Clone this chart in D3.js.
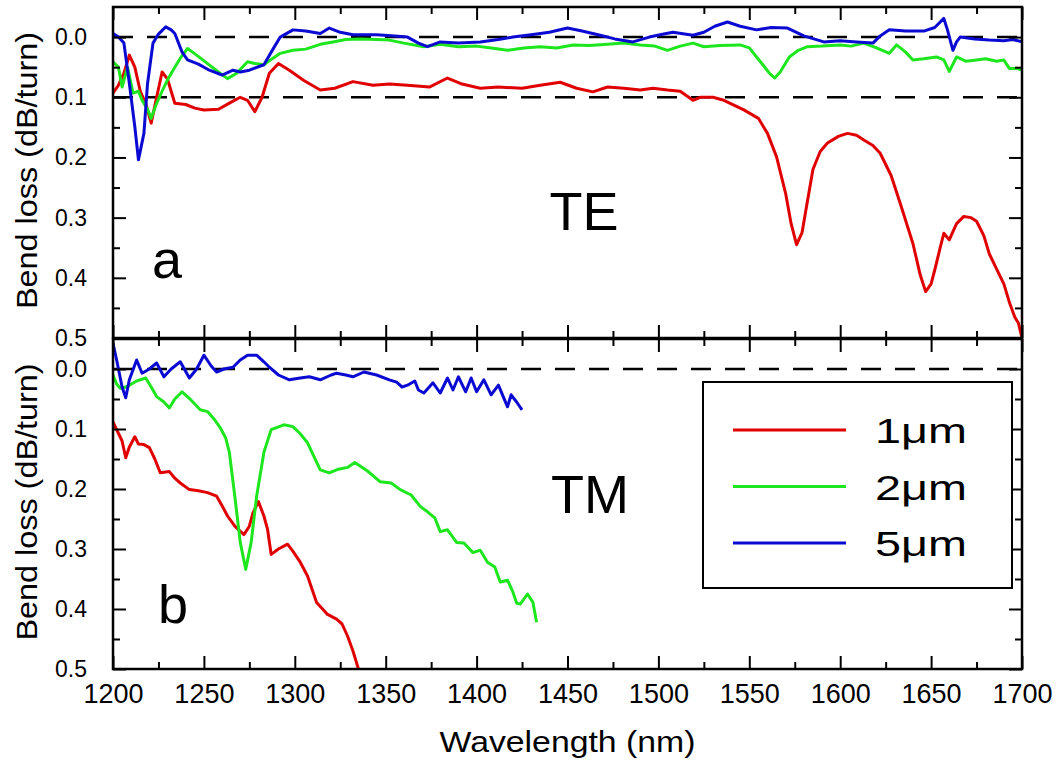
<!DOCTYPE html>
<html>
<head>
<meta charset="utf-8">
<script src="https://cdn.jsdelivr.net/npm/d3@7"></script>
<style>
  body { margin: 0; background: #fff; }
  svg { display: block; font-family: "Liberation Sans", Arial, sans-serif; }
</style>
</head>
<body>
<svg id="chart" width="1057" height="763"></svg>
<script>
// ---- data ----
var xTicks = [1200, 1250, 1300, 1350, 1400, 1450, 1500, 1550, 1600, 1650, 1700];
var xMinor = [1225, 1275, 1325, 1375, 1425, 1475, 1525, 1575, 1625, 1675];
var yTicks = [0.0, 0.1, 0.2, 0.3, 0.4, 0.5];
var yMinor = [0.05, 0.15, 0.25, 0.35, 0.45];
var seriesNames = ["1\u03bcm", "2\u03bcm", "5\u03bcm"];
var seriesColors = ["#e00000", "#1ee61e", "#0a0ad2"];

// (a) TE  -- [wavelength nm, bend loss dB/turn]
var te1um = [[1200,0.093],[1203,0.08],[1206,0.06],[1209,0.03],[1212,0.05],[1215,0.09],[1218,0.11],[1221,0.143],
  [1224,0.1],[1227,0.058],[1230,0.07],[1234,0.11],[1240,0.112],[1245,0.118],[1250,0.121],[1258,0.12],
  [1265,0.108],[1270,0.1],[1274,0.105],[1278,0.124],[1282,0.1],[1286,0.06],[1291,0.044],[1297,0.055],
  [1305,0.072],[1314,0.088],[1322,0.085],[1332,0.074],[1343,0.08],[1352,0.078],[1362,0.08],[1374,0.083],
  [1384,0.068],[1392,0.078],[1402,0.085],[1412,0.083],[1425,0.085],[1435,0.08],[1446,0.075],[1455,0.085],
  [1464,0.091],[1472,0.083],[1481,0.085],[1490,0.088],[1497,0.085],[1505,0.088],[1512,0.09],[1519,0.105],
  [1523,0.1],[1530,0.1],[1536,0.105],[1547,0.121],[1555,0.135],[1560,0.16],[1565,0.199],[1570,0.26],
  [1573,0.31],[1576,0.345],[1579,0.325],[1581,0.29],[1585,0.22],[1589,0.19],[1593,0.176],[1599,0.165],
  [1604,0.16],[1609,0.163],[1613,0.171],[1618,0.18],[1622,0.193],[1628,0.23],[1633,0.276],[1640,0.343],
  [1644,0.395],[1647,0.423],[1650,0.41],[1652,0.387],[1655,0.35],[1657,0.326],[1660,0.337],[1664,0.31],
  [1668,0.298],[1672,0.3],[1675,0.306],[1679,0.33],[1682,0.36],[1686,0.385],[1690,0.41],[1693,0.44],
  [1696,0.465],[1698,0.475],[1700,0.5]];
var te2um = [[1200,0.041],[1203,0.05],[1205,0.083],[1208,0.05],[1211,0.093],[1214,0.09],[1216,0.105],
  [1219,0.12],[1221,0.135],[1224,0.11],[1227,0.09],[1230,0.071],[1234,0.05],[1237,0.035],[1241,0.019],
  [1246,0.03],[1252,0.044],[1258,0.058],[1263,0.069],[1268,0.06],[1274,0.041],[1278,0.044],[1283,0.046],
  [1288,0.035],[1292,0.027],[1299,0.022],[1306,0.02],[1314,0.012],[1321,0.008],[1328,0.004],[1336,0.003],
  [1345,0.004],[1352,0.005],[1360,0.01],[1371,0.016],[1380,0.012],[1390,0.016],[1400,0.015],[1408,0.018],
  [1417,0.022],[1426,0.018],[1435,0.016],[1444,0.018],[1453,0.013],[1462,0.014],[1472,0.012],[1481,0.01],
  [1490,0.013],[1498,0.015],[1505,0.022],[1512,0.015],[1519,0.01],[1525,0.016],[1534,0.014],[1545,0.013],
  [1550,0.018],[1554,0.033],[1558,0.048],[1561,0.06],[1564,0.068],[1567,0.058],[1572,0.033],[1577,0.022],
  [1582,0.016],[1590,0.015],[1600,0.013],[1606,0.015],[1613,0.01],[1620,0.018],[1627,0.027],[1631,0.013],
  [1636,0.025],[1640,0.038],[1646,0.036],[1653,0.033],[1657,0.038],[1660,0.057],[1664,0.033],[1669,0.04],
  [1675,0.038],[1680,0.036],[1686,0.04],[1690,0.038],[1693,0.052],[1697,0.052],[1700,0.055]];
var te5um = [[1200,-0.006],[1203,0.0],[1206,0.01],[1209,0.077],[1212,0.149],[1214,0.204],[1217,0.16],
  [1219,0.077],[1222,0.01],[1225,-0.005],[1229,-0.017],[1232,-0.012],[1234,-0.006],[1238,0.025],
  [1241,0.038],[1247,0.045],[1253,0.055],[1260,0.063],[1266,0.055],[1270,0.058],[1275,0.055],[1283,0.046],
  [1288,0.02],[1292,0.0],[1299,-0.012],[1306,-0.01],[1314,-0.006],[1319,-0.015],[1325,-0.008],[1332,-0.004],
  [1345,-0.004],[1355,-0.002],[1362,0.0],[1368,0.01],[1373,0.016],[1380,0.008],[1390,0.01],[1402,0.008],
  [1412,0.004],[1420,0.0],[1430,-0.004],[1440,-0.008],[1450,-0.015],[1458,-0.01],[1468,-0.003],[1476,0.003],
  [1486,0.008],[1495,0.0],[1503,-0.005],[1508,-0.008],[1519,-0.003],[1525,-0.008],[1531,-0.018],[1538,-0.025],
  [1545,-0.018],[1554,-0.012],[1562,-0.016],[1571,-0.015],[1580,-0.002],[1591,0.008],[1600,0.006],
  [1609,0.008],[1618,0.01],[1622,-0.002],[1627,-0.012],[1636,-0.01],[1646,-0.01],[1652,-0.016],
  [1657,-0.031],[1659,-0.012],[1662,0.022],[1664,0.008],[1666,0.0],[1674,0.003],[1682,0.005],[1690,0.006],
  [1695,0.004],[1700,0.008]];

// (b) TM
var tm1um = [[1200,0.088],[1202,0.101],[1205,0.12],[1207,0.148],[1209,0.13],[1212,0.113],[1214,0.125],
  [1217,0.126],[1220,0.131],[1223,0.15],[1226,0.173],[1231,0.171],[1234,0.182],[1237,0.19],[1242,0.201],
  [1247,0.203],[1252,0.206],[1257,0.212],[1260,0.228],[1263,0.245],[1267,0.262],[1272,0.276],[1275,0.262],
  [1277,0.24],[1280,0.221],[1283,0.245],[1285,0.267],[1287,0.309],[1291,0.3],[1296,0.292],[1299,0.304],
  [1303,0.322],[1307,0.345],[1312,0.389],[1318,0.409],[1323,0.417],[1326,0.425],[1329,0.445],[1332,0.47],
  [1335,0.5]];
var tm2um = [[1200,0.01],[1202,0.025],[1204,0.032],[1207,0.03],[1209,0.027],[1213,0.02],[1218,0.015],
  [1221,0.03],[1224,0.046],[1228,0.055],[1231,0.065],[1234,0.05],[1238,0.038],[1243,0.052],[1248,0.068],
  [1252,0.071],[1256,0.085],[1259,0.098],[1262,0.115],[1264,0.139],[1267,0.212],[1270,0.289],[1273,0.334],
  [1276,0.289],[1279,0.212],[1283,0.139],[1287,0.101],[1294,0.093],[1299,0.096],[1303,0.108],[1307,0.123],
  [1314,0.168],[1319,0.173],[1324,0.167],[1329,0.164],[1333,0.156],[1340,0.17],[1347,0.188],[1353,0.19],
  [1358,0.201],[1364,0.21],[1369,0.229],[1373,0.238],[1377,0.248],[1380,0.271],[1384,0.268],[1389,0.289],
  [1393,0.29],[1398,0.306],[1402,0.302],[1406,0.322],[1410,0.33],[1413,0.355],[1417,0.352],[1420,0.372],
  [1422,0.39],[1424,0.392],[1428,0.375],[1431,0.389],[1433,0.422]];
var tm5um = [[1200,-0.043],[1202,-0.015],[1205,0.03],[1207,0.048],[1209,0.018],[1213,-0.015],[1216,0.007],
  [1220,0.0],[1224,-0.01],[1228,0.013],[1232,0.0],[1237,-0.012],[1242,0.015],[1246,0.0],[1250,-0.023],
  [1254,-0.005],[1257,0.005],[1261,0.0],[1266,-0.003],[1270,-0.015],[1274,-0.023],[1279,-0.023],
  [1283,-0.012],[1286,-0.003],[1291,0.01],[1297,0.018],[1303,0.015],[1308,0.013],[1314,0.018],
  [1320,0.01],[1323,0.007],[1328,0.01],[1332,0.013],[1338,0.005],[1345,0.01],[1352,0.018],[1356,0.022],
  [1359,0.03],[1362,0.027],[1366,0.02],[1368,0.035],[1371,0.04],[1376,0.023],[1380,0.04],[1384,0.015],
  [1387,0.035],[1390,0.013],[1394,0.038],[1397,0.015],[1400,0.038],[1404,0.018],[1408,0.043],[1412,0.027],
  [1417,0.063],[1419,0.043],[1422,0.055],[1425,0.068]];
var refLinesTE = [0.0, 0.1];
var refLinesTM = [0.0];

// ---- layout ----
var svg = d3.select("#chart");
var left = 113, right = 1022;
var panels = [
  { top: 7,   bottom: 338, series: [te1um, te2um, te5um], refs: refLinesTE, mode: "TE", letter: "a",
    modeX: 584, modeY: 230, letterX: 167, letterY: 278, showX: false, showTop05: true },
  { top: 339, bottom: 669, series: [tm1um, tm2um, tm5um], refs: refLinesTM, mode: "TM", letter: "b",
    modeX: 590, modeY: 513, letterX: 173, letterY: 623, showX: true, showTop05: true }
];

var x = d3.scaleLinear().domain([1200, 1700]).range([left, right]);

panels.forEach(function(p, i) {
  var y = d3.scaleLinear().domain([-0.05, 0.5]).range([p.top, p.bottom]);
  var g = svg.append("g");
  var clipId = "clip" + i;

  svg.append("clipPath").attr("id", clipId)
    .append("rect")
    .attr("x", left).attr("y", p.top)
    .attr("width", right - left).attr("height", p.bottom - p.top);

  // dashed reference lines
  g.selectAll(".ref")
    .data(p.refs)
    .enter()
    .append("line")
      .attr("x1", left).attr("x2", right)
      .attr("y1", function(d) { return y(d); })
      .attr("y2", function(d) { return y(d); })
      .attr("stroke", "#000")
      .attr("stroke-width", 2.5)
      .attr("stroke-dasharray", "20,14");

  // curves
  var line = d3.line()
    .x(function(d) { return x(d[0]); })
    .y(function(d) { return y(d[1]); });

  g.append("g").attr("clip-path", "url(#" + clipId + ")")
    .selectAll("path")
    .data(p.series)
    .enter()
    .append("path")
      .attr("d", line)
      .attr("fill", "none")
      .attr("stroke", function(d, k) { return seriesColors[k]; })
      .attr("stroke-width", 3)
      .attr("stroke-linejoin", "round");

  // ticks on all four sides, pointing inward
  function ticks(axis, tx, ty) {
    var a = g.append("g")
      .attr("transform", "translate(" + tx + "," + ty + ")")
      .call(axis);
    a.select(".domain").remove();
    a.selectAll("line").attr("stroke", "#000").attr("stroke-width", 2);
    return a;
  }

  var yl = ticks(d3.axisLeft(y).tickValues(yTicks).tickSize(-13).tickPadding(26)
    .tickFormat(d3.format(".1f")), left, 0);
  yl.attr("font-size", 23).attr("font-family", null);
  yl.selectAll("text").attr("fill", "#000");
  ticks(d3.axisLeft(y).tickValues(yMinor).tickSize(-7).tickFormat(""), left, 0);
  ticks(d3.axisRight(y).tickValues(yTicks).tickSize(-13).tickFormat(""), right, 0);
  ticks(d3.axisRight(y).tickValues(yMinor).tickSize(-7).tickFormat(""), right, 0);

  ticks(d3.axisTop(x).tickValues(xTicks).tickSize(-13).tickFormat(""), 0, p.top);
  ticks(d3.axisTop(x).tickValues(xMinor).tickSize(-7).tickFormat(""), 0, p.top);
  var xb = ticks(d3.axisBottom(x).tickValues(xTicks).tickSize(-13).tickPadding(15)
    .tickFormat(p.showX ? d3.format("d") : ""), 0, p.bottom);
  xb.attr("font-size", 27).attr("font-family", null);
  xb.selectAll("text").attr("fill", "#000");
  ticks(d3.axisBottom(x).tickValues(xMinor).tickSize(-7).tickFormat(""), 0, p.bottom);

  // frame
  g.append("rect")
    .attr("x", left).attr("y", p.top)
    .attr("width", right - left).attr("height", p.bottom - p.top)
    .attr("fill", "none").attr("stroke", "#000").attr("stroke-width", 2.5);

  // y title
  g.append("text")
    .attr("transform", "translate(37," + ((p.top + p.bottom) / 2 - 2) + ") rotate(-90)")
    .attr("text-anchor", "middle")
    .attr("font-size", 29)
    .attr("textLength", 277)
    .attr("lengthAdjust", "spacingAndGlyphs")
    .text("Bend loss (dB/turn)");

  g.append("text")
    .attr("x", p.modeX).attr("y", p.modeY)
    .attr("text-anchor", "middle")
    .attr("font-size", 54)
    .text(p.mode);

  g.append("text")
    .attr("x", p.letterX).attr("y", p.letterY)
    .attr("text-anchor", "middle")
    .attr("font-size", 54)
    .text(p.letter);
});

// x title
svg.append("text")
  .attr("x", (left + right) / 2).attr("y", 752)
  .attr("text-anchor", "middle")
  .attr("font-size", 29)
  .attr("textLength", 256)
  .attr("lengthAdjust", "spacingAndGlyphs")
  .text("Wavelength (nm)");

// legend
var legend = svg.append("g");
legend.append("rect")
  .attr("x", 703).attr("y", 382)
  .attr("width", 309).attr("height", 206)
  .attr("fill", "#fff").attr("stroke", "#000").attr("stroke-width", 2);

var rows = legend.selectAll(".row")
  .data(seriesNames)
  .enter()
  .append("g")
    .attr("transform", function(d, k) { return "translate(0," + (430 + k * 56.5) + ")"; });

rows.append("line")
  .attr("x1", 733).attr("x2", 846)
  .attr("stroke", function(d, k) { return seriesColors[k]; })
  .attr("stroke-width", 3);

rows.append("text")
  .attr("x", 875).attr("y", 13)
  .attr("font-size", 35)
  .attr("textLength", 92)
  .attr("lengthAdjust", "spacingAndGlyphs")
  .text(function(d) { return d; });
</script>
</body>
</html>
